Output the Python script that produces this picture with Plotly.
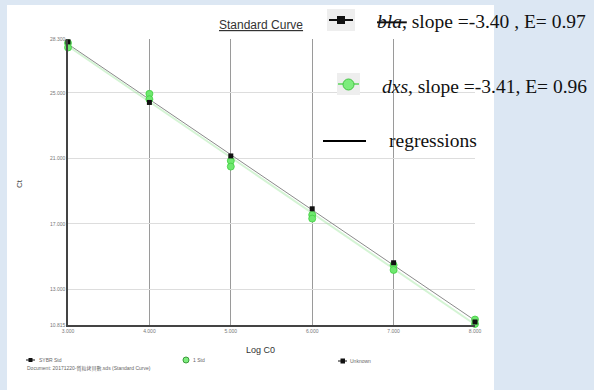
import numpy as np
import plotly.graph_objects as go

# ---- data ----
log_c0 = [3, 4, 5, 6, 7, 8]
bla_ct = [28.13, 24.42, 21.15, 17.92, 14.62, 11.00]
dxs_ct_rep1 = [28.05, 24.95, 20.85, 17.55, 14.48, 11.15]
dxs_ct_rep2 = [27.78, 24.62, 20.50, 17.32, 14.18, 10.88]
y_tick_vals = [10.815, 13.0, 17.0, 21.0, 25.0, 28.3]
x_tick_vals = [3, 4, 5, 6, 7, 8]
legend_labels = ["<i><s>bla,</s></i> slope =-3.40 , E= 0.97",
                 "<i>dxs</i>, slope =-3.41, E= 0.96",
                 "regressions"]

# ---- layout geometry (pixels) ----
W, H = 594, 390
L, R, T, B = 68, 475, 39, 325


def px(x):
    return (x - L) / (R - L)


def py(y):
    return (B - y) / (B - T)


fig = go.Figure()

# regression lines
xs_all = np.array(log_c0, dtype=float)
dxs_x = np.concatenate([xs_all, xs_all])
dxs_y = np.concatenate([dxs_ct_rep1, dxs_ct_rep2])
k_d, b_d = np.polyfit(dxs_x, dxs_y, 1)
k_b, b_b = np.polyfit(xs_all, np.array(bla_ct), 1)
xr = np.array([min(log_c0), max(log_c0)], dtype=float)
fig.add_trace(go.Scatter(x=xr, y=k_d * xr + b_d, mode="lines",
                         line=dict(color="rgba(160,230,160,0.45)", width=2),
                         hoverinfo="skip", showlegend=False, cliponaxis=False))
fig.add_trace(go.Scatter(x=xr, y=k_b * xr + b_b, mode="lines",
                         line=dict(color="#8a8a8a", width=1),
                         hoverinfo="skip", showlegend=False, cliponaxis=False))

# dxs points
fig.add_trace(go.Scatter(x=log_c0 + log_c0, y=dxs_ct_rep1 + dxs_ct_rep2, mode="markers",
                         marker=dict(symbol="circle", size=7, color="#6fe86f",
                                     line=dict(color="#3fcf3f", width=0.8)),
                         showlegend=False, cliponaxis=False))
# bla points
fig.add_trace(go.Scatter(x=log_c0, y=bla_ct, mode="markers",
                         marker=dict(symbol="square", size=5, color="#111111"),
                         showlegend=False, cliponaxis=False))

shapes = []
# white panel
shapes.append(dict(type="rect", xref="paper", yref="paper",
                   x0=px(7), x1=px(494), y0=py(5), y1=py(391),
                   fillcolor="white", line=dict(width=0), layer="below"))

# legend icons
shapes.append(dict(type="rect", xref="paper", yref="paper",
                   x0=px(327), x1=px(355), y0=py(9), y1=py(31),
                   fillcolor="#eeeeee", line=dict(width=0)))
shapes.append(dict(type="line", xref="paper", yref="paper",
                   x0=px(329), x1=px(353), y0=py(20), y1=py(20),
                   line=dict(color="#111", width=2)))
shapes.append(dict(type="rect", xref="paper", yref="paper",
                   x0=px(337), x1=px(345), y0=py(16), y1=py(24),
                   fillcolor="#111", line=dict(width=0)))

shapes.append(dict(type="rect", xref="paper", yref="paper",
                   x0=px(337), x1=px(360), y0=py(73), y1=py(95),
                   fillcolor="#eeeeee", line=dict(width=0)))
shapes.append(dict(type="line", xref="paper", yref="paper",
                   x0=px(338), x1=px(359), y0=py(84), y1=py(84),
                   line=dict(color="#5ad45a", width=1.5)))
shapes.append(dict(type="circle", xref="paper", yref="paper",
                   x0=px(343), x1=px(354), y0=py(79), y1=py(90),
                   fillcolor="#7ded7d", line=dict(color="#44c444", width=1)))

shapes.append(dict(type="line", xref="paper", yref="paper",
                   x0=px(323), x1=px(366), y0=py(141), y1=py(141),
                   line=dict(color="#000", width=2)))

# bottom legend icons
shapes.append(dict(type="line", xref="paper", yref="paper",
                   x0=px(26), x1=px(35), y0=py(360), y1=py(360),
                   line=dict(color="#111", width=1)))
shapes.append(dict(type="rect", xref="paper", yref="paper",
                   x0=px(28.5), x1=px(32.5), y0=py(358), y1=py(362),
                   fillcolor="#111", line=dict(width=0)))
shapes.append(dict(type="circle", xref="paper", yref="paper",
                   x0=px(183), x1=px(189), y0=py(357), y1=py(363),
                   fillcolor="#7ded7d", line=dict(color="#3a9a3a", width=1)))
shapes.append(dict(type="line", xref="paper", yref="paper",
                   x0=px(338), x1=px(347), y0=py(361), y1=py(361),
                   line=dict(color="#111", width=1)))
shapes.append(dict(type="rect", xref="paper", yref="paper",
                   x0=px(340.5), x1=px(345), y0=py(358.5), y1=py(363.5),
                   fillcolor="#111", line=dict(width=0)))

ann = []
serif = "Liberation Serif, Times New Roman, serif"
ann.append(dict(xref="paper", yref="paper", x=px(375), y=py(21), xanchor="left", yanchor="middle",
                text=legend_labels[0], showarrow=False, font=dict(family=serif, size=19.5, color="#111")))
ann.append(dict(xref="paper", yref="paper", x=px(380), y=py(86), xanchor="left", yanchor="middle",
                text=legend_labels[1], showarrow=False, font=dict(family=serif, size=19.5, color="#111")))
ann.append(dict(xref="paper", yref="paper", x=px(387), y=py(140), xanchor="left", yanchor="middle",
                text=legend_labels[2], showarrow=False, font=dict(family=serif, size=19.5, color="#111")))

ann.append(dict(xref="paper", yref="paper", x=px(261), y=py(25), xanchor="center", yanchor="middle",
                text="<u>Standard Curve</u>", showarrow=False,
                font=dict(family="Liberation Sans, Arial", size=12, color="#333")))
ann.append(dict(xref="paper", yref="paper", x=px(260), y=py(350), xanchor="center", yanchor="middle",
                text="Log C0", showarrow=False,
                font=dict(family="Liberation Sans, Arial", size=9, color="#333")))
ann.append(dict(xref="paper", yref="paper", x=px(19), y=py(184), xanchor="center", yanchor="middle",
                text="Ct", showarrow=False, textangle=-90,
                font=dict(family="Liberation Sans, Arial", size=8, color="#444")))

small = dict(family="Liberation Sans, Arial", size=5, color="#666")
ann.append(dict(xref="paper", yref="paper", x=px(37), y=py(360), xanchor="left", yanchor="middle",
                text="SYBR Std", showarrow=False, font=small))
ann.append(dict(xref="paper", yref="paper", x=px(25), y=py(368), xanchor="left", yanchor="middle",
                text="Document: 20171220-質粒拷貝數.sds (Standard Curve)", showarrow=False,
                font=dict(family="Liberation Sans, Noto Sans CJK TC, Arial", size=5, color="#666")))
ann.append(dict(xref="paper", yref="paper", x=px(191), y=py(360), xanchor="left", yanchor="middle",
                text="1 Std", showarrow=False, font=small))
ann.append(dict(xref="paper", yref="paper", x=px(348), y=py(361), xanchor="left", yanchor="middle",
                text="Unknown", showarrow=False, font=small))

fig.update_layout(
    width=W, height=H,
    margin=dict(l=L, r=W - R, t=T, b=H - B, pad=0),
    paper_bgcolor="#dce7f3",
    plot_bgcolor="white",
    showlegend=False,
    shapes=shapes,
    annotations=ann,
    xaxis=dict(range=[3, 8], tickvals=x_tick_vals,
               ticktext=[f"{v:.3f}" for v in x_tick_vals],
               showgrid=True, gridcolor="#9a9a9a", gridwidth=1,
               showline=True, linecolor="#444", linewidth=1.5,
               zeroline=False, ticks="", ticklen=0,
               tickfont=dict(family="Liberation Sans, Arial", size=5, color="#777"),
               fixedrange=True),
    yaxis=dict(range=[10.815, 28.3], tickvals=y_tick_vals,
               ticktext=[f"{v:.3f}" for v in y_tick_vals],
               showgrid=True, gridcolor="#dddddd", gridwidth=1,
               showline=True, linecolor="#444", linewidth=1.5,
               zeroline=False, ticks="", ticklen=0,
               tickfont=dict(family="Liberation Sans, Arial", size=5, color="#777"),
               fixedrange=True),
)

fig.write_html("out.html", config={"displayModeBar": False},
               post_script="document.body.style.margin='0';document.body.style.overflow='hidden';document.body.style.background='#dce7f3';")
